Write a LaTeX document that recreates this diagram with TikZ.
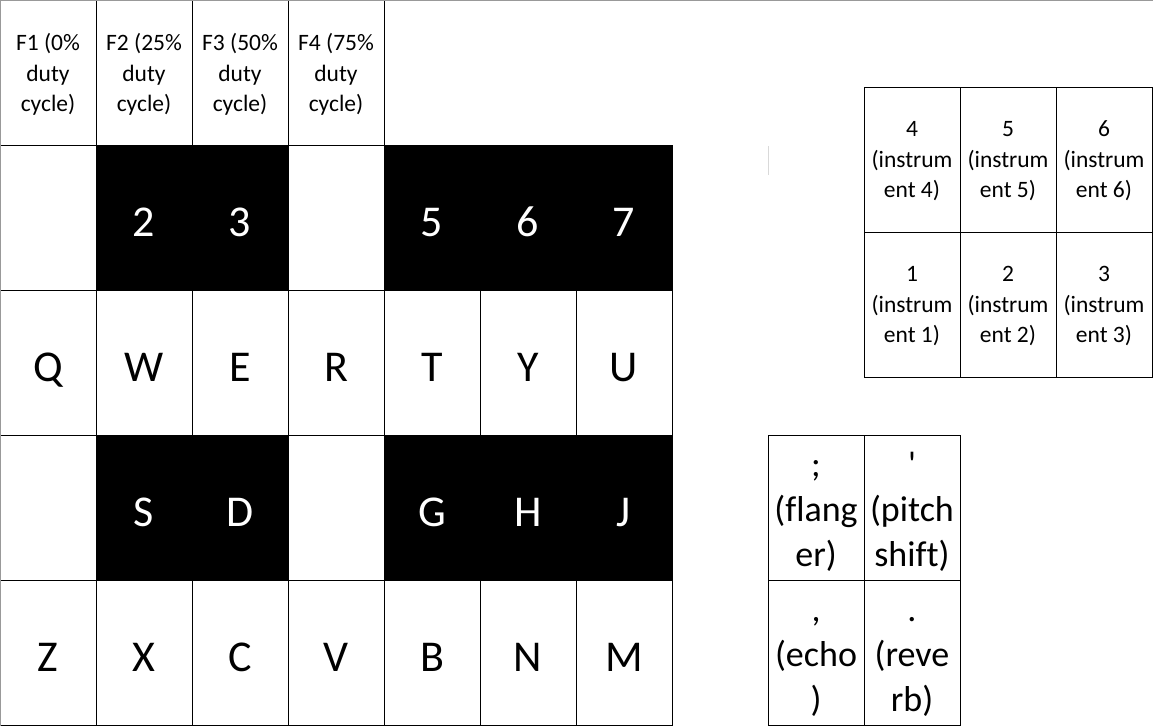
\documentclass[tikz,border=0pt]{standalone}
\usepackage{fontspec}
\setmainfont{Carlito}[Ligatures=NoCommon]

\tikzset{
  cell/.style={draw=black, line width=1pt, minimum width=96pt, minimum height=145pt,
    inner sep=0pt, outer sep=0pt, align=center},
  keycell/.style={cell, fill=white, text height=38pt, text depth=0pt,
    font={\fontsize{44}{53}\selectfont}},
  darkcell/.style={keycell, fill=black, text=white},
  fcell/.style={cell, text depth=0pt, font={\fontsize{23.5}{30.5}\selectfont}},
  fxcell/.style={cell, text height=118pt, text depth=0pt, font={\fontsize{36}{45}\selectfont}}
}

\begin{document}
\begin{tikzpicture}[x=1pt,y=-1pt]
    \useasboundingbox (0,0) rectangle (1153,726);
    % duty cycle row
    \node[fcell] (f1) at (48,72.5) {F1 (0\%\\duty\\cycle)};
    \node[fcell] (f2) at (144,72.5) {F2 (25\%\\duty\\cycle)};
    \node[fcell] (f3) at (240,72.5) {F3 (50\%\\duty\\cycle)};
    \node[fcell] (f4) at (336,72.5) {F4 (75\%\\duty\\cycle)};
    % number row
    \node[keycell] (n1) at (48,217.5) {};
    \node[darkcell] (n2) at (144,217.5) {2};
    \node[darkcell] (n3) at (240,217.5) {3};
    \node[keycell] (n4) at (336,217.5) {};
    \node[darkcell] (n5) at (432,217.5) {5};
    \node[darkcell] (n6) at (528,217.5) {6};
    \node[darkcell] (n7) at (624,217.5) {7};
    % top letter row
    \node[keycell] (q) at (48,362.5) {Q};
    \node[keycell] (w) at (144,362.5) {W};
    \node[keycell] (e) at (240,362.5) {E};
    \node[keycell] (r) at (336,362.5) {R};
    \node[keycell] (t) at (432,362.5) {T};
    \node[keycell] (y) at (528,362.5) {Y};
    \node[keycell] (u) at (624,362.5) {U};
    % home row
    \node[keycell] (a) at (48,507.5) {};
    \node[darkcell] (s) at (144,507.5) {S};
    \node[darkcell] (d) at (240,507.5) {D};
    \node[keycell] (f) at (336,507.5) {};
    \node[darkcell] (g) at (432,507.5) {G};
    \node[darkcell] (h) at (528,507.5) {H};
    \node[darkcell] (j) at (624,507.5) {J};
    % bottom row
    \node[keycell] (z) at (48,652.5) {Z};
    \node[keycell] (x) at (144,652.5) {X};
    \node[keycell] (c) at (240,652.5) {C};
    \node[keycell] (v) at (336,652.5) {V};
    \node[keycell] (b) at (432,652.5) {B};
    \node[keycell] (n) at (528,652.5) {N};
    \node[keycell] (m) at (624,652.5) {M};
    % instruments
    \node[fcell] (i4) at (912,159.5) {4\\(instrum\\ent 4)};
    \node[fcell] (i5) at (1008,159.5) {5\\(instrum\\ent 5)};
    \node[fcell] (i6) at (1104,159.5) {6\\(instrum\\ent 6)};
    \node[fcell] (i1) at (912,304.5) {1\\(instrum\\ent 1)};
    \node[fcell] (i2) at (1008,304.5) {2\\(instrum\\ent 2)};
    \node[fcell] (i3) at (1104,304.5) {3\\(instrum\\ent 3)};
    % effects
    \node[fxcell] (flanger) at (816,507.5) {;\\(flang\\er)};
    \node[fxcell] (pitch) at (912,507.5) {\textquotesingle\\(pitch\\shift)};
    \node[fxcell] (echo) at (816,652.5) {,\\(echo\\)};
    \node[fxcell] (reverb) at (912,652.5) {.\\(reve\\rb)};
    % page edges
    \draw[gray!80, line width=1.5pt] (0,726) -- (0,0) -- (1153,0);
    \draw[gray!30, line width=0.8pt] (768,146) -- (768,175);
\end{tikzpicture}
\end{document}
